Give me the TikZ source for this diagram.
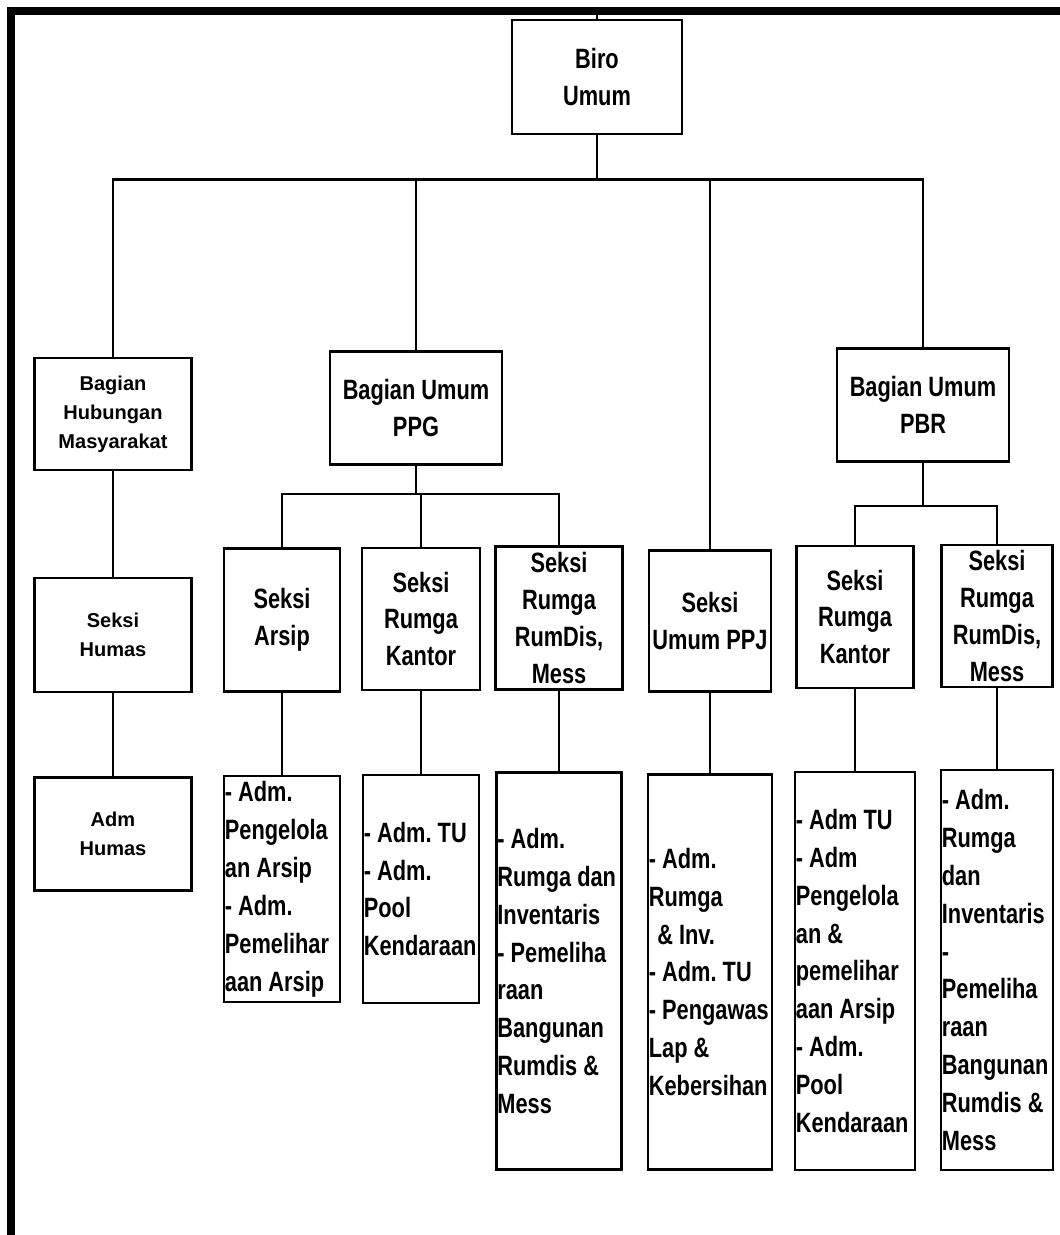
\documentclass[tikz,border=0pt]{standalone}
\usepackage{fontspec}
\setmainfont{Liberation Sans}
\newfontfamily\narrowsans{Liberation Sans}[FakeStretch=0.78]
\usetikzlibrary{positioning}
\hyphenpenalty=10000

\begin{document}
\begin{tikzpicture}[x=0.02cm, y=-0.02cm, box/.style={draw, line width=1.6pt, align=center, inner sep=0pt, font=\narrowsans\bfseries\fontsize{15.9pt}{21pt}\selectfont}, hbox/.style={box, font=\bfseries\fontsize{11.4pt}{16.5pt}\selectfont}, lbox/.style={draw, line width=1.6pt, align=flush left, inner xsep=0.5pt, inner ysep=0pt, font=\narrowsans\bfseries\fontsize{15.9pt}{21.6pt}\selectfont}, link/.style={line width=1.4pt}]
\useasboundingbox (0,0) rectangle (1060,1235);
\fill (7,7) rectangle (1060,15);
\fill (7,7) rectangle (15,1235);
% top
\node[box, minimum width=3.4cm, minimum height=2.28cm] (biro) at (597,77) {Biro\\Umum};
\node[hbox, minimum width=3.14cm, minimum height=2.24cm] (hubmas) at (113,414) {Bagian\\Hubungan\\Masyarakat};
\node[box, minimum width=3.44cm, minimum height=2.26cm] (ppg) at (416,408) {Bagian Umum\\PPG};
\node[box, minimum width=3.44cm, minimum height=2.26cm] (pbr) at (923,405) {Bagian Umum\\PBR};
% seksi
\node[hbox, minimum width=3.14cm, minimum height=2.28cm] (shumas) at (113,635) {Seksi\\Humas};
\node[box, minimum width=2.32cm, minimum height=2.86cm] (sarsip) at (282,620) {Seksi\\Arsip};
\node[box, minimum width=2.36cm, minimum height=2.84cm] (skantor) at (421,619) {Seksi\\Rumga\\Kantor};
\node[box, minimum width=2.54cm, minimum height=2.86cm] (srumdis) at (559,618) {Seksi\\Rumga\\RumDis,\\Mess};
\node[box, minimum width=2.44cm, minimum height=2.82cm] (sppj) at (710,621) {Seksi\\Umum PPJ};
\node[box, minimum width=2.34cm, minimum height=2.84cm] (skantorb) at (855,617) {Seksi\\Rumga\\Kantor};
\node[box, minimum width=2.22cm, minimum height=2.84cm] (srumdisb) at (997,616) {Seksi\\Rumga\\RumDis,\\Mess};
% adm
\node[hbox, minimum width=3.14cm, minimum height=2.26cm] (ahumas) at (113,834) {Adm\\Humas};
\node[lbox, text width=2.285cm, minimum height=4.52cm] (larsip) at (282,889) {-~Adm.\\Pengelola\\an Arsip\\-~Adm.\\Pemelihar\\aan Arsip};
\node[lbox, text width=2.285cm, minimum height=4.56cm] (lkantor) at (421,889) {-~Adm.~TU\\-~Adm.\\Pool\\Kendaraan};
\node[lbox, text width=2.465cm, minimum height=7.94cm] (lrumdis) at (559,971) {-~Adm.\\Rumga~dan\\Inventaris\\-~Pemeliha\\raan\\Bangunan\\Rumdis~\&\\Mess};
\node[lbox, text width=2.445cm, minimum height=7.9cm] (lppj) at (710,972) {-~Adm.\\Rumga\\\hspace*{0.3em}\&~Inv.\\-~Adm.~TU\\-~Pengawas\\Lap~\&\\Kebersihan};
\node[lbox, text width=2.365cm, minimum height=7.96cm] (lkantorb) at (855,971) {-~Adm~TU\\-~Adm\\Pengelola\\an~\&\\pemelihar\\aan~Arsip\\-~Adm.\\Pool\\Kendaraan};
\node[lbox, text width=2.205cm, minimum height=8cm] (lrumdisb) at (997,970) {-~Adm.\\Rumga\\dan\\Inventaris\\-\\Pemeliha\\raan\\Bangunan\\Rumdis~\&\\Mess};
% lines
\coordinate (top) at (597,11);
\draw[link] (biro.north) -- (top);
\draw[link] (biro.south) -- ++(0,44) -| (hubmas.north);
\draw[link] (biro.south) -- ++(0,44) -| (ppg.north);
\draw[link] (biro.south) -- ++(0,44) -| (sppj.north);
\draw[link] (biro.south) -- ++(0,44) -| (pbr.north);
\draw[link] (hubmas.south) -- (shumas.north);
\draw[link] (shumas.south) -- (ahumas.north);
\draw[link] (ppg.south) -- ++(0,28) -| (sarsip.north);
\draw[link] (ppg.south) -- ++(0,28) -| (skantor.north);
\draw[link] (ppg.south) -- ++(0,28) -| (srumdis.north);
\draw[link] (pbr.south) -- ++(0,43) -| (skantorb.north);
\draw[link] (pbr.south) -- ++(0,43) -| (srumdisb.north);
\draw[link] (sarsip.south) -- (larsip.north);
\draw[link] (skantor.south) -- (lkantor.north);
\draw[link] (srumdis.south) -- (lrumdis.north);
\draw[link] (sppj.south) -- (lppj.north);
\draw[link] (skantorb.south) -- (lkantorb.north);
\draw[link] (srumdisb.south) -- (lrumdisb.north);
\end{tikzpicture}
\end{document}
